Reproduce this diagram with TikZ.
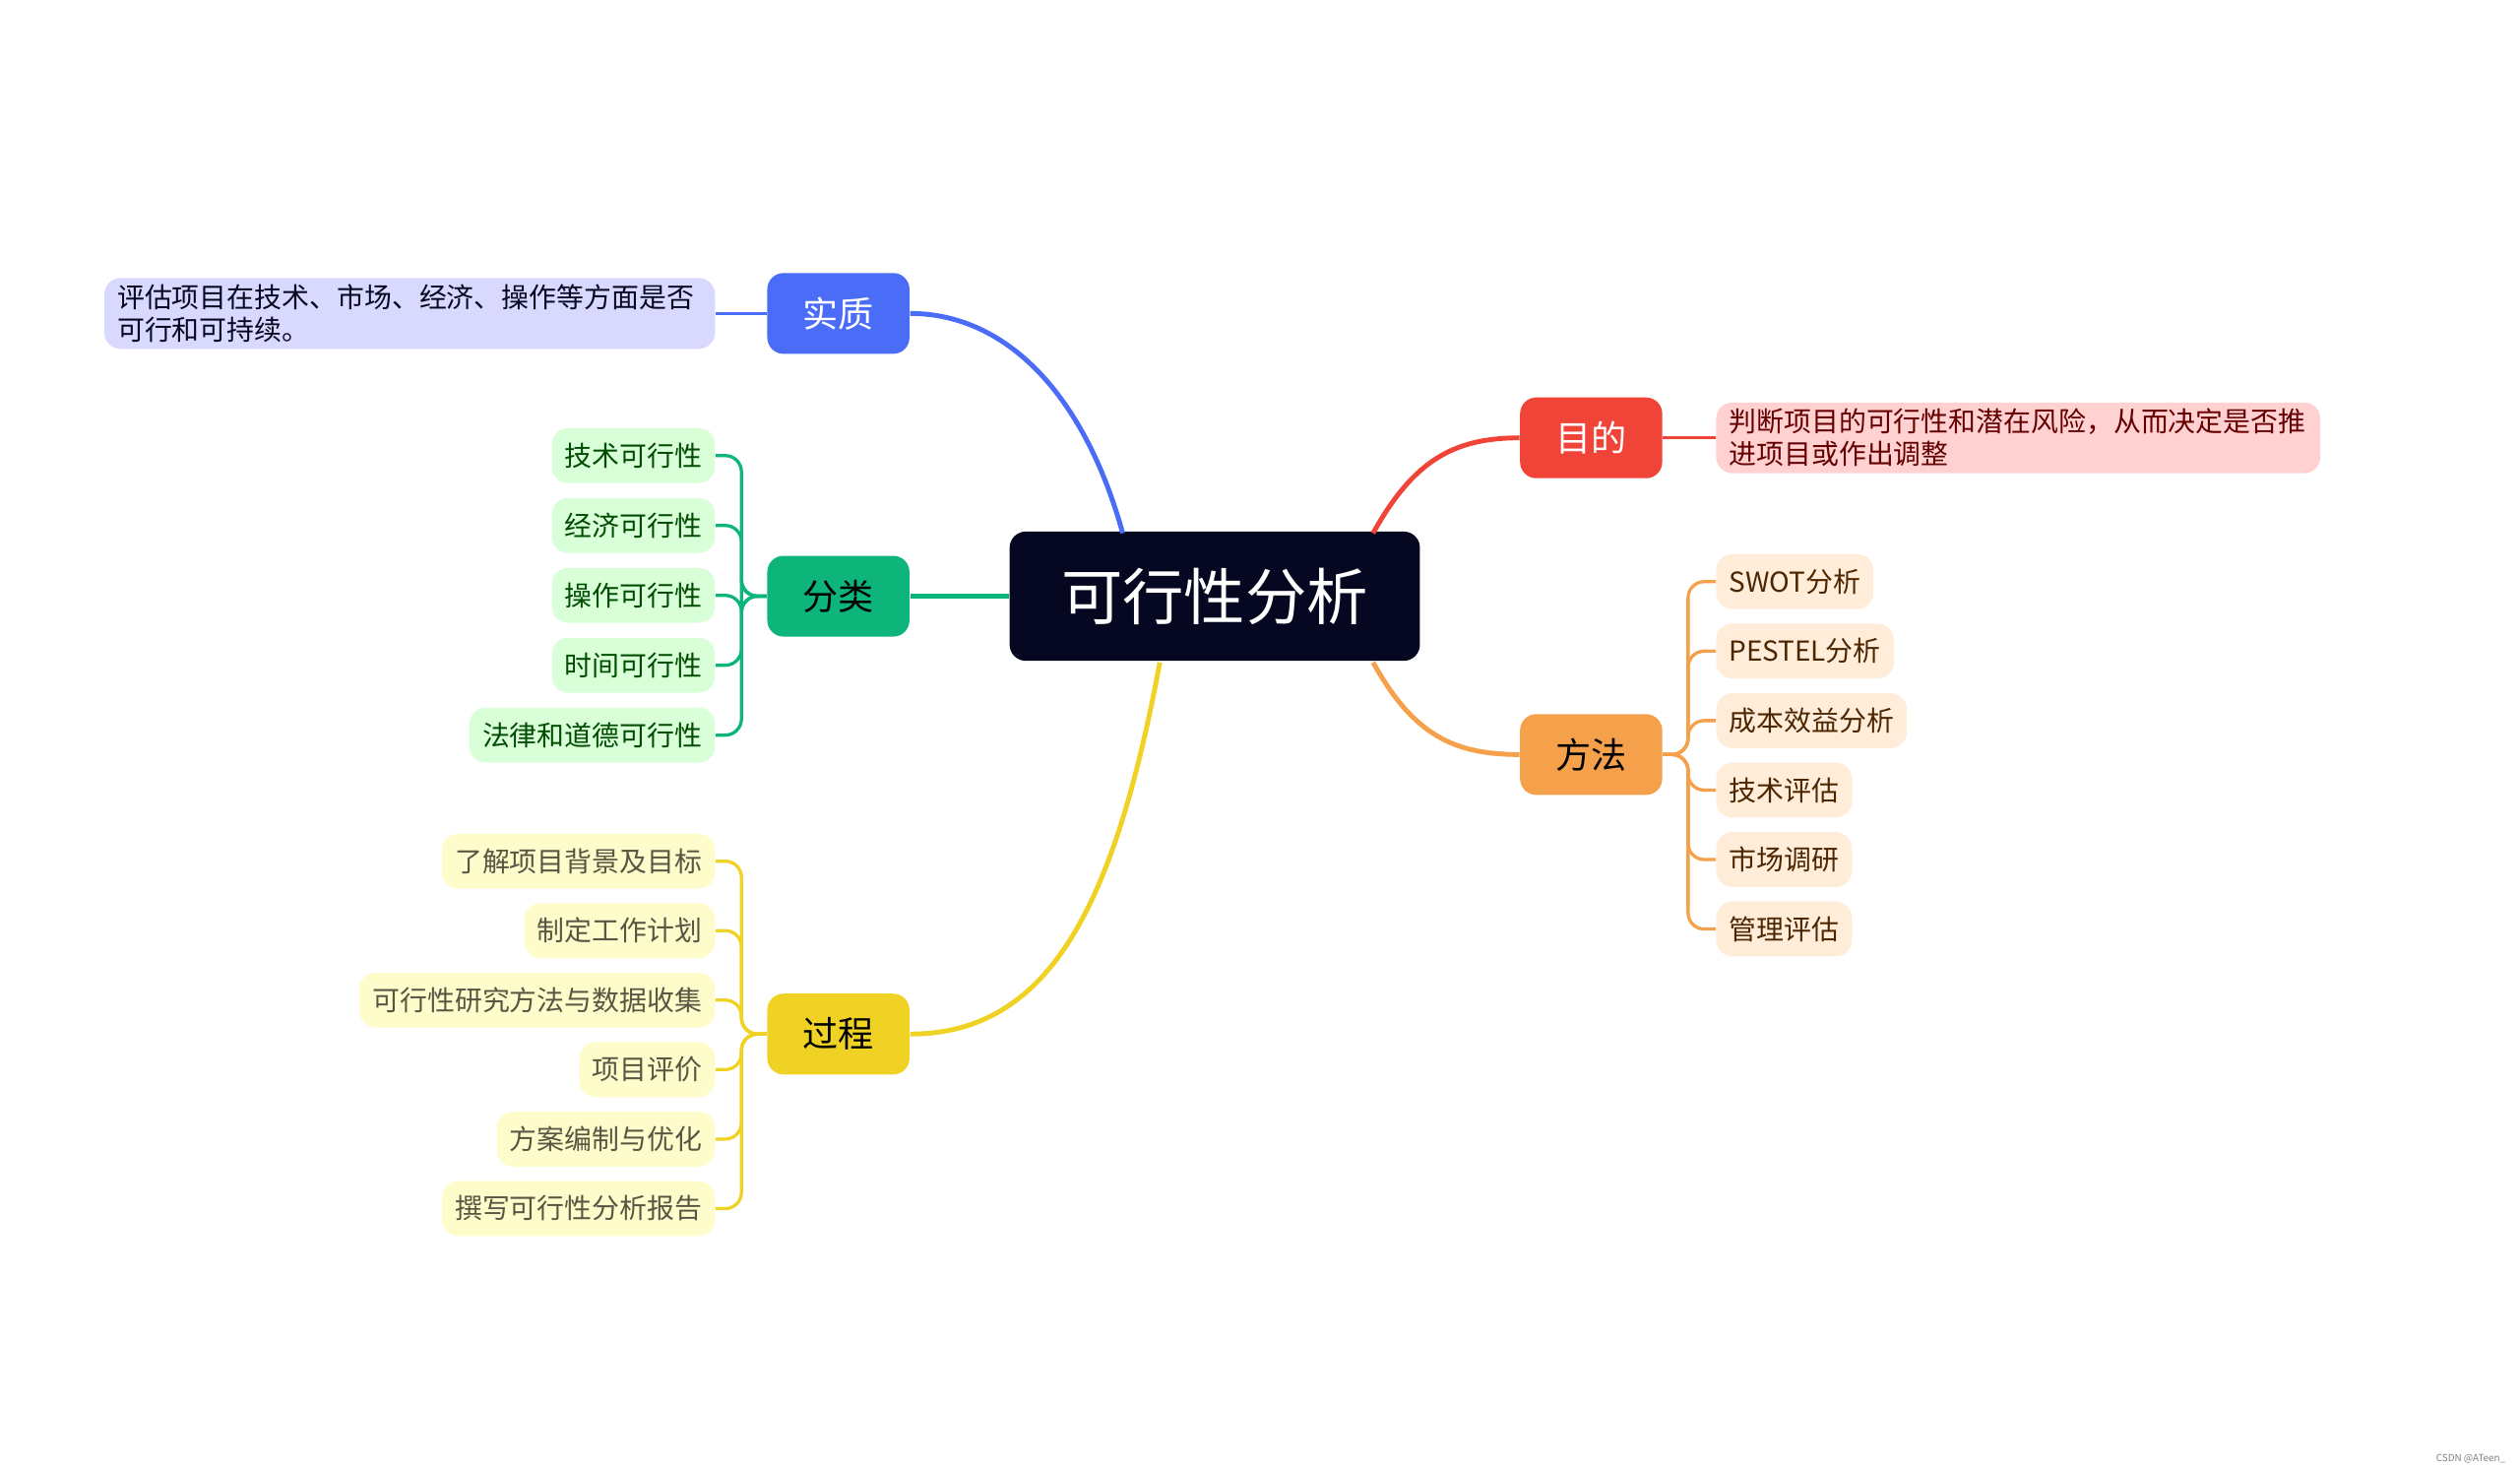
\documentclass[tikz,border=0pt]{standalone}
\usepackage{fontspec}
\setmainfont{Noto Sans CJK SC}
\usetikzlibrary{positioning}

\definecolor{rootc}{HTML}{060720}
\definecolor{bluec}{HTML}{4A6CF7}
\definecolor{greenc}{HTML}{0DB57A}
\definecolor{yellowc}{HTML}{F0D225}
\definecolor{redc}{HTML}{F04438}
\definecolor{orangec}{HTML}{F5A04A}

\tikzset{
  branch/.style={rounded corners=5pt, minimum width=44pt, minimum height=25pt, font=\fontsize{11}{12}\selectfont},
  leaf/.style={rounded corners=5pt, minimum height=17pt, inner xsep=4pt, inner ysep=2pt, font=\fontsize{8.5}{10}\selectfont},
  link/.style={line width=1.5pt},
  twig/.style={line width=1pt, rounded corners=5pt}
}

\begin{document}
\begin{tikzpicture}[x=0.5pt,y=-0.5pt]

  \useasboundingbox (0,0) rectangle (1560,908);

  % centre
  \node[fill=rootc, text=white, rounded corners=5pt, minimum width=127pt, minimum height=40pt,
        font=\fontsize{19}{20}\selectfont] (root) at (752,369) {可行性分析};

  % main branches
  \node[branch, fill=bluec, text=white] (essence) at (519,194) {实质};
  \node[branch, fill=greenc, text=black] (kinds) at (519,369) {分类};
  \node[branch, fill=yellowc, text=black] (steps) at (519,640) {过程};
  \node[branch, fill=redc, text=white] (goal) at (985,271) {目的};
  \node[branch, fill=orangec, text=black] (methods) at (985,467) {方法};

  \draw[link, bluec] (695,330) .. controls (670,240) and (620,194) .. (essence.east);
  \draw[link, greenc] (root.west) -- (kinds.east);
  \draw[link, yellowc] (718,410) .. controls (690,560) and (650,640) .. (steps.east);
  \draw[link, redc] (850,330) .. controls (875,285) and (900,271) .. (goal.west);
  \draw[link, orangec] (850,410) .. controls (875,455) and (900,467) .. (methods.west);

  % essence / goal texts
  \node[leaf, fill=blue!15, text=rootc, text width=181pt, align=left, anchor=east] (essencetxt) at (443,194)
    {评估项目在技术、市场、经济、操作等方面是否\\可行和可持续。};
  \draw[twig, bluec] (essencetxt.east) -- (essence.west);
  \node[leaf, fill=red!18, text=red!40!black, text width=179pt, align=left, anchor=west] (goaltxt) at (1062,271)
    {判断项目的可行性和潜在风险，从而决定是否推\\进项目或作出调整};
  \draw[twig, redc] (goal.east) -- (goaltxt.west);

  % kinds
  \foreach \t [count=\i] in {技术可行性,经济可行性,操作可行性,时间可行性,法律和道德可行性} {
    \node[leaf, fill=green!15, text=green!30!black, anchor=east] (kind\i) at (443,{282+43.25*(\i-1)}) {\t};
    \draw[twig, greenc] (kind\i.east) -| (459,369) -- (kinds.west);
  }

  % steps
  \foreach \t [count=\i] in {了解项目背景及目标,制定工作计划,可行性研究方法与数据收集,项目评价,方案编制与优化,撰写可行性分析报告} {
    \node[leaf, fill=yellow!20, text=yellow!25!black, anchor=east] (step\i) at (443,{533+43*(\i-1)}) {\t};
    \draw[twig, yellowc] (step\i.east) -| (459,640) -- (steps.west);
  }

  % methods
  \foreach \t [count=\i] in {SWOT分析,PESTEL分析,成本效益分析,技术评估,市场调研,管理评估} {
    \node[leaf, fill=orange!15, text=orange!30!black, anchor=west] (method\i) at (1062,{360+43*(\i-1)}) {\t};
    \draw[twig, orangec] (method\i.west) -| (1045,467) -- (methods.east);
  }

  \node[font=\fontsize{3}{3}\selectfont, text=gray, anchor=east] (mark) at (1558,903) {CSDN @ATeen\_};
\end{tikzpicture}
\end{document}
